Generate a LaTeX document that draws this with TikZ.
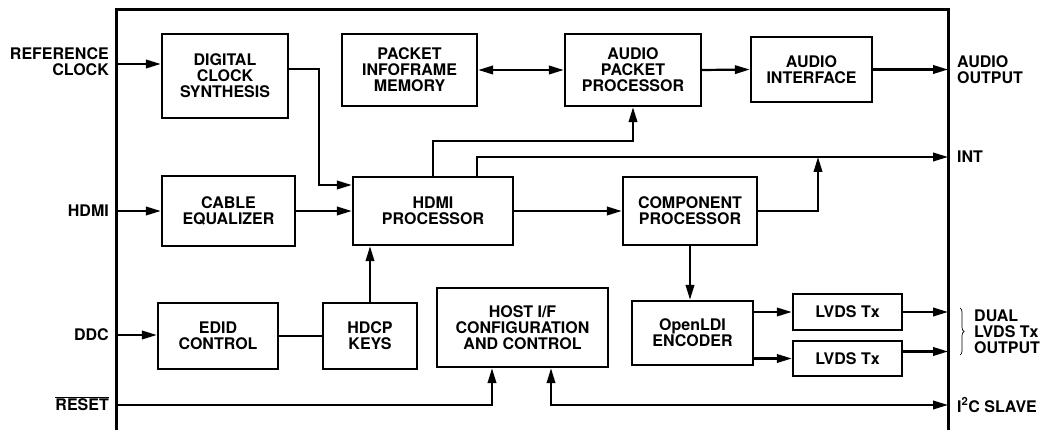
\documentclass[tikz,border=0pt]{standalone}
\usepackage{fontspec}
\setmainfont{TeX Gyre Heros}
\usetikzlibrary{arrows.meta,decorations.pathreplacing,calc,positioning}

\begin{document}
\begin{tikzpicture}[x=1pt, y=-1pt]
	\tikzstyle{every node} = [font=\bfseries\fontsize{16}{16}\selectfont, align=center, inner sep=0pt]
	\tikzstyle{blk} = [draw = black, line width=2.4pt]
	\tikzstyle{arr} = [line width=2.2pt, -{Triangle[length=15pt,width=8.5pt]}]
	\tikzstyle{darr} = [line width=2.2pt, {Triangle[length=15pt,width=8.5pt]}-{Triangle[length=15pt,width=8.5pt]}]
	\tikzstyle{wire} = [line width=2.2pt]
	\useasboundingbox (0,0) rectangle (1043,430);
	\draw[line width=3pt] (116,434) -- (116,10) -- (948,10) -- (948,434);
\node[blk, minimum width=126pt, minimum height=84pt] (dcs) at (225, 76) {DIGITAL\\CLOCK\\SYNTHESIS};
\node[blk, minimum width=133pt, minimum height=70pt] (cab) at (228.5, 211) {CABLE\\EQUALIZER};
\node[blk, minimum width=160pt, minimum height=68pt] (hdmi) at (433, 211) {HDMI\\PROCESSOR};
\node[blk, minimum width=135pt, minimum height=72pt] (pim) at (409.5, 70) {PACKET\\INFOFRAME\\MEMORY};
\node[blk, minimum width=136pt, minimum height=72pt] (app) at (633, 70) {AUDIO\\PACKET\\PROCESSOR};
\node[blk, minimum width=121pt, minimum height=65pt] (aif) at (811.5, 69.5) {AUDIO\\INTERFACE};
\node[blk, minimum width=134pt, minimum height=68pt] (comp) at (690, 211) {COMPONENT\\PROCESSOR};
\node[blk, minimum width=120pt, minimum height=66pt] (edid) at (218, 336) {EDID\\CONTROL};
\node[blk, minimum width=94pt, minimum height=66pt] (hdcp) at (370, 336) {HDCP\\KEYS};
\node[blk, minimum width=171pt, minimum height=79pt] (host) at (522.5, 327.5) {HOST I/F\\CONFIGURATION\\AND CONTROL};
\node[blk, minimum width=121pt, minimum height=64pt] (oldi) at (692.5, 333) {OpenLDI\\ENCODER};
\node[blk, minimum width=109pt, minimum height=36pt] (lv1) at (847.5, 312) {LVDS Tx};
\node[blk, minimum width=109pt, minimum height=35pt] (lv2) at (847.5, 358.5) {LVDS Tx};
\node[anchor=east, align=right] (lrc) at (109, 62) {REFERENCE\\CLOCK};
\node[anchor=east, align=right] (lhd) at (109, 211) {HDMI};
\node[anchor=east, align=right] (lddc) at (109, 335) {DDC};
\node[anchor=east, align=right] (lrst) at (109, 404) {$\overline{\hbox{RESET}}$};
\node[anchor=west, align=left] (laud) at (957, 69.5) {AUDIO\\OUTPUT};
\node[anchor=west, align=left] (lint) at (957, 157) {INT};
\node[anchor=west, align=left] (llv) at (974, 332) {DUAL\\LVDS Tx\\OUTPUT};
\node[anchor=west, align=left] (li2c) at (957, 405) {I\textsuperscript{2}C SLAVE};
\coordinate (refin) at (116, 64);
\coordinate (hdin) at (116, 211);
\coordinate (ddcin) at (116, 335);
\coordinate (rstin) at (116, 405);
\coordinate (audout) at (948, 69.5);
\coordinate (intout) at (948, 157);
\coordinate (intj) at (818, 157);
\coordinate (i2cout) at (948, 405);
	\path[draw, arr] (refin) -- (refin -| dcs.west);
	\path[draw, arr] ([yshift=7pt]dcs.east) -- ++(30,0) |- ([yshift=26pt]hdmi.west);
	\path[draw, arr] (hdin) -- (cab.west);
	\path[draw, arr] (cab.east) -- (hdmi.west);
	\path[draw, arr] (hdmi.north) -- ++(0,-35) -| (app.south);
	\path[draw, arr] ([xshift=44pt]hdmi.north) |- (intout);
	\path[draw, arr] (comp.east) -| (intj);
	\path[draw, darr] (pim.east) -- (app.west);
	\path[draw, arr] (app.east) -- (aif.west);
	\path[draw, arr] (aif.east) -- (audout);
	\path[draw, arr] (hdmi.east) -- (comp.west);
	\path[draw, arr] (comp.south) -- (comp.south |- oldi.north);
	\path[draw, arr] (oldi.east |- lv1.west) -- (lv1.west);
	\path[draw, arr] (oldi.east |- lv2.west) -- (lv2.west);
	\path[draw, arr] (lv1.east) -- (lv1.east -| intout);
	\path[draw, arr] ([yshift=7pt]lv2.east) -- ([yshift=7pt]lv2.east -| intout);
	\path[draw, arr] (ddcin) -- (ddcin -| edid.west);
	\path[draw, wire] (edid.east) -- (hdcp.west);
	\path[draw, arr] (hdcp.north) -- (hdcp.north |- hdmi.south);
	\path[draw, arr] (rstin) -| ([xshift=-30.5pt]host.south);
	\path[draw, darr] ([xshift=28.5pt]host.south) |- (i2cout);
	\draw[decorate, decoration={brace, amplitude=4pt}, line width=0.7pt] (960, 308) -- (960, 355);
	\end{tikzpicture}
\end{document}
